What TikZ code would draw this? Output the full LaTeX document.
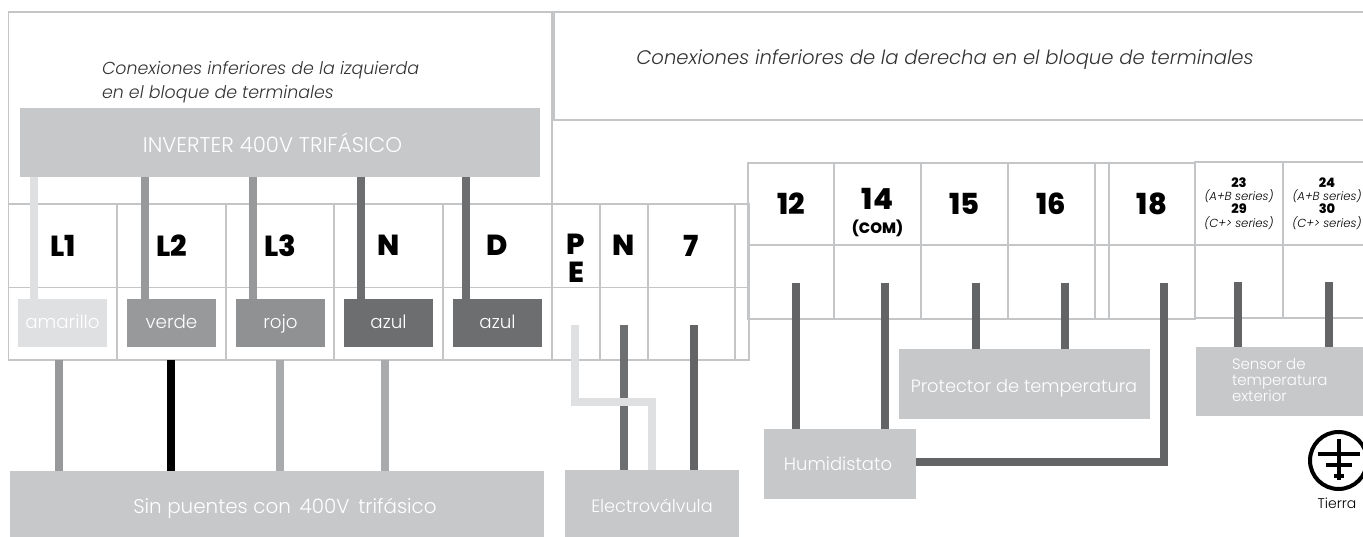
\documentclass[tikz,border=0pt]{standalone}
\usepackage{fontspec}
\setmainfont{Poppins Light}[ItalicFont=Poppins Light Italic,BoldFont=Poppins ExtraBold,BoldItalicFont=Poppins ExtraBold Italic]
\definecolor{gridgray}{HTML}{C4C5C7}
\definecolor{panelgray}{HTML}{C7C8CA}
\definecolor{lightgray}{HTML}{DFE0E2}
\definecolor{midgray}{HTML}{98999B}
\definecolor{darkgray}{HTML}{6D6E70}
\definecolor{wiredark}{HTML}{636466}
\definecolor{wirepale}{HTML}{A9AAAC}
\begin{document}
\begin{tikzpicture}[x=1pt,y=-1pt]
\tikzstyle{every node}=[inner sep=0pt,outer sep=0pt]
\tikzstyle{frame}=[draw=gridgray,line width=1.2pt]
\tikzstyle{cell}=[frame,font=\fontsize{29}{29}\bfseries,text=black]
\tikzstyle{note}=[text=black!80,align=left]
\tikzstyle{panel}=[fill=panelgray,text=white,font=\fontsize{17.7}{18}\selectfont]
\tikzstyle{colorbox}=[minimum width=89,minimum height=48,text=white,text height=14,text depth=2,font=\fontsize{18.3}{18}\selectfont]
\tikzstyle{serie}=[draw=gridgray,line width=1.5pt,align=center,text=black,font=\fontsize{11.7}{13.4}\selectfont]
\tikzstyle{wire}=[line width=8pt]
\useasboundingbox (0,0) rectangle (1363,537);
% frames
\node[frame,minimum width=543.5,minimum height=348] (izq) at (280.25,186) {};
\node[frame,minimum width=815,minimum height=108,anchor=north west] (der) at (554,12) {};
\node[note,anchor=west,font=\fontsize{17.4}{24.5}\itshape] (notaizq) at (102,82) {Conexiones inferiores de la izquierda\\en el bloque de terminales};
\node[note,font=\fontsize{19.6}{24}\itshape] (notader) at (945,60) {Conexiones inferiores de la derecha en el bloque de terminales};
% left and middle terminals
\foreach \name/\xa/\xb/\txt in {l1/8.5/117/L1,l2/117/226/L2,l3/226/334/L3,n1/334/443/N,d/443/552/D,pe/552/600/{},n2/600/648/N,siete/648/735/7,hueco/735/749/{}}{
  \node[cell,minimum width={\xb-\xa},minimum height=83.5] (\name top) at ({(\xa+\xb)/2},245.75) {\txt};
  \node[frame,minimum width={\xb-\xa},minimum height=72.5] (\name low) at ({(\xa+\xb)/2},323.75) {};
}
\node[font=\fontsize{29}{28}\bfseries,align=center] (pelabel) at (576,258) {P\\E};
% right terminals
\foreach \name/\xa/\xb/\txt in {doce/748/834/12,catorce/834/921/{},quince/921/1008/15,dseis/1008/1095/16,hueco2/1095/1109/{},docho/1109/1195/18}{
  \node[cell,minimum width={\xb-\xa},minimum height=82] (\name top) at ({(\xa+\xb)/2},204) {\txt};
  \node[frame,minimum width={\xb-\xa},minimum height=74] (\name low) at ({(\xa+\xb)/2},282) {};
}
\node[font=\fontsize{29}{29}\bfseries] (cat) at (877.5,199) {14};
\node[font=\fontsize{15}{15}\bfseries] (com) at (877.5,228) {(COM)};
\node[serie,minimum width=88,minimum height=83] (s23 top) at (1239,203.5) {\textbf{\fontsize{13}{13.4}\selectfont 23}\\\textit{(A+B series)}\\\textbf{\fontsize{13}{13.4}\selectfont 29}\\\textit{(C+> series)}};
\node[serie,minimum width=88,minimum height=73] (s23 low) at (1239,281.5) {};
\node[serie,minimum width=88,minimum height=83] (s24 top) at (1327,203.5) {\textbf{\fontsize{13}{13.4}\selectfont 24}\\\textit{(A+B series)}\\\textbf{\fontsize{13}{13.4}\selectfont 30}\\\textit{(C+> series)}};
\node[serie,minimum width=88,minimum height=73] (s24 low) at (1327,281.5) {};
% blocks
\node[panel,minimum width=520,minimum height=69,font=\fontsize{21.3}{22}\selectfont] (inverter) at (280,142.5) {};
\node[text=white,font=\fontsize{21.3}{22}\selectfont] (invertertxt) at (272.5,142.5) {INVERTER 400V TRIFÁSICO};
\node[panel,minimum width=534,minimum height=66] (puentes) at (277,504) {};
\node[text=white,font=\fontsize{19.9}{20}\selectfont] (puentestxt) at (285,508) {Sin puentes con\, 400V\, trifásico};
\node[panel,minimum width=174,minimum height=67] (valvula) at (652,503.5) {};
\node[text=white,font=\fontsize{17.7}{18}\selectfont] (valvulatxt) at (652,505.5) {Electroválvula};
\node[panel,minimum width=152,minimum height=70] (humidistato) at (840,464) {};
\node[text=white,font=\fontsize{18}{18}\selectfont] (humidistatotxt) at (838,464) {Humidistato};
\node[panel,minimum width=251,minimum height=70] (protector) at (1024.5,384) {};
\node[text=white,font=\fontsize{17.8}{18}\selectfont] (protectortxt) at (1024,388) {Protector de temperatura};
\node[panel,minimum width=167,minimum height=69,anchor=north west] (sensor) at (1196,347) {};
\node[text=white,align=left,anchor=west,font=\fontsize{15}{16}\selectfont] (sensortxt) at (1232,380) {Sensor de\\temperatura\\exterior};
\node[colorbox,fill=lightgray] (amarillo) at (62.5,323) {amarillo};
\node[colorbox,fill=midgray] (verde) at (171.5,323) {verde};
\node[colorbox,fill=midgray!95!black] (rojo) at (280.5,323) {rojo};
\node[colorbox,fill=darkgray] (azula) at (388.5,323) {azul};
\node[colorbox,fill=darkgray] (azulb) at (497.5,323) {azul};
% wires from the inverter
\foreach \x/\to/\col in {34/amarillo/lightgray,144.5/verde/midgray,253/rojo/midgray,361/azula/darkgray,466/azulb/darkgray}{
  \coordinate (w) at (\x,0);
  \draw[wire,draw=\col] (w |- inverter.south) -- (w |- \to.north);
}
% wires to the bottom block
\foreach \x/\col in {59/midgray,171/black,280/wirepale,385/wirepale}{
  \coordinate (w) at (\x,0);
  \draw[wire,draw=\col] (w |- izq.south) -- (w |- puentes.north);
}
% wires to the other blocks
\foreach \x/\y/\to/\col in {624/325/valvula/darkgray,694/325/valvula/wiredark,795.5/283/humidistato/wiredark,885/283/humidistato/wiredark,976/283/protector/wiredark,1065/283/protector/wiredark,1238/282/sensor/wiredark,1329/282/sensor/wiredark}{
  \coordinate (w) at (\x,\y);
  \draw[wire,draw=\col] (w) -- (w |- \to.north);
}
\coordinate (petop) at (575,325);
\coordinate (pebend) at (652,402);
\draw[wire,draw=lightgray] (petop) |- (pebend) -- (pebend |- valvula.north);
\coordinate (dtop) at (1164,283);
\draw[wire,draw=wiredark] (dtop) |- ([yshift=2.5pt]humidistato.east);
% ground
\node[circle,draw=black,line width=4pt,minimum size=57pt] (tierrasym) at (1338.5,460.5) {};
\draw[line width=3.5pt] (1339,439) -- (1339,480);
\draw[line width=3.5pt] (1318,454) -- (1360,454);
\draw[line width=3.5pt] (1326,465) -- (1352,465);
\draw[line width=4pt] (1334,476) -- (1344,476);
\node[font=\fontsize{14}{14}\selectfont,text=black] (tierra) at (1337,503) {Tierra};
\end{tikzpicture}
\end{document}
